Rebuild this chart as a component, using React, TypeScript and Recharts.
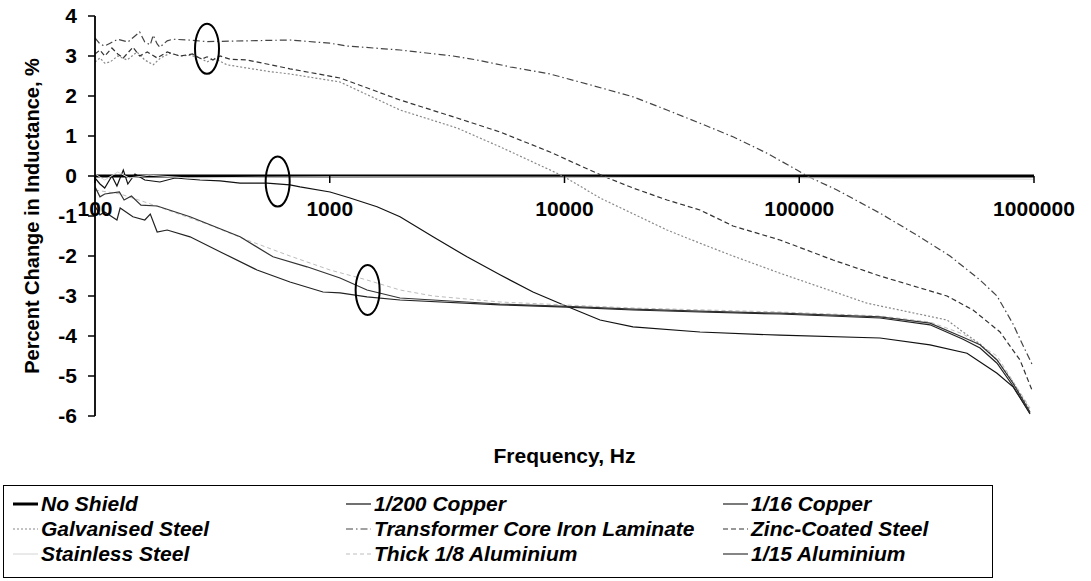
import React from 'react';
import { LineChart, Line, XAxis, YAxis, ReferenceLine, ReferenceDot, Label } from 'recharts';

type Pt = [number, number];

// frequency (Hz) vs percent change in inductance
const FREQ_TICKS = [100, 1000, 10000, 100000, 1000000];
const PCT_TICKS = [-6, -5, -4, -3, -2, -1, 0, 1, 2, 3, 4];

const noShield: Pt[] = [[100, 0], [1000, 0], [10000, 0], [100000, 0], [1000000, 0]];

const copper200: Pt[] = [
  [100, -0.05], [105, -0.2], [110, -0.3], [118, 0.0], [124, -0.25], [132, 0.15], [138, -0.2], [148, 0.05],
  [163, -0.1], [189, -0.15], [219, -0.05], [280, -0.1], [341, -0.12], [415, -0.18], [540, -0.18], [677, -0.22],
  [747, -0.27], [1003, -0.4], [1220, -0.55], [1590, -0.77], [1992, -1.02], [2754, -1.52], [3842, -2.02],
  [5312, -2.47], [7342, -2.9], [9854, -3.22], [14170, -3.6], [19580, -3.77], [37770, -3.9], [82790, -3.98],
  [220800, -4.05], [360600, -4.22], [518400, -4.43], [695800, -4.93], [813900, -5.27], [961600, -5.93],
];

const copper16: Pt[] = [
  [100, -0.75], [105, -0.97], [110, -0.9], [124, -1.1], [128, -0.8], [145, -1.02], [163, -1.1], [172, -0.95],
  [184, -1.4], [203, -1.35], [254, -1.52], [351, -1.93], [490, -2.35], [677, -2.65], [936, -2.9], [1106, -2.92],
  [1441, -3.02], [1992, -3.1], [5312, -3.22], [10250, -3.28], [19580, -3.35], [37770, -3.4], [82790, -3.45],
  [220800, -3.55], [360600, -3.72], [498500, -4.08], [589000, -4.3], [695800, -4.68], [813900, -5.25], [961600, -5.95],
];

const galvanised: Pt[] = [
  [100, 2.85], [105, 2.95], [110, 2.82], [116, 2.85], [125, 3.0], [137, 2.9], [151, 3.1], [163, 2.9], [177, 2.78],
  [190, 2.95], [209, 3.07], [230, 3.0], [254, 3.02], [280, 2.95], [300, 2.85], [320, 2.95], [365, 2.78], [444, 2.7],
  [540, 2.62], [677, 2.55], [1106, 2.35], [1992, 1.65], [3485, 1.2], [5312, 0.73], [9854, 0], [14170, -0.55],
  [27330, -1.35], [37770, -1.68], [52220, -2.0], [82790, -2.43], [194400, -3.18], [426000, -3.6], [498500, -3.9],
  [589000, -4.2], [695800, -4.6], [813900, -5.15], [961600, -5.85],
];

const transformerCore: Pt[] = [
  [100, 3.45], [105, 3.3], [110, 3.25], [116, 3.32], [125, 3.42], [138, 3.35], [148, 3.5], [155, 3.6], [163, 3.35],
  [172, 3.28], [177, 3.52], [184, 3.3], [189, 3.22], [203, 3.38], [215, 3.42], [250, 3.4], [300, 3.36], [444, 3.38],
  [677, 3.4], [1000, 3.32], [1185, 3.25], [1992, 3.15], [3350, 3.0], [4240, 2.9], [5859, 2.73], [8676, 2.55],
  [12840, 2.28], [19580, 1.98], [27330, 1.65], [37770, 1.32], [52220, 0.98], [72880, 0.57], [97810, 0.15],
  [107900, 0], [144800, -0.35], [220800, -0.93], [317500, -1.48], [438700, -2.0], [589000, -2.6], [695800, -3.0],
  [813900, -3.7], [900000, -4.25], [980000, -4.7],
];

const zincCoated: Pt[] = [
  [100, 3.05], [105, 3.15], [110, 3.0], [118, 3.2], [125, 3.05], [132, 2.95], [145, 3.22], [155, 3.0], [167, 3.1],
  [184, 2.95], [203, 3.1], [230, 3.0], [260, 3.05], [285, 2.92], [300, 2.98], [318, 2.9], [341, 3.0], [376, 2.92],
  [444, 2.9], [520, 2.82], [677, 2.68], [1106, 2.45], [1992, 1.9], [3485, 1.45], [5312, 1.1], [8676, 0.6],
  [14590, 0], [19580, -0.3], [27330, -0.6], [37770, -0.85], [52220, -1.25], [82790, -1.6], [139300, -2.1],
  [220800, -2.5], [426000, -3.0], [549800, -3.35], [716600, -3.9], [871800, -4.6], [980000, -5.35],
];

const stainless: Pt[] = [
  [100, 0.05], [110, -0.1], [125, 0.1], [140, -0.05], [170, 0.02], [250, -0.05], [500, -0.03], [1000, -0.02],
  [10000, -0.03], [100000, -0.05], [1000000, -0.08],
];

const thickAl: Pt[] = [
  [100, -0.35], [128, -0.45], [163, -0.65], [215, -0.9], [300, -1.2], [444, -1.6], [677, -2.0], [1003, -2.35],
  [1441, -2.6], [1992, -2.85], [2754, -3.0], [5312, -3.15], [19580, -3.3], [82790, -3.4], [220800, -3.5],
  [360600, -3.65], [498500, -3.95], [695800, -4.5], [961600, -5.8],
];

const al15: Pt[] = [
  [100, -0.27], [105, -0.52], [110, -0.45], [127, -0.4], [133, -0.6], [143, -0.5], [157, -0.73], [184, -0.75],
  [254, -1.02], [415, -1.52], [573, -2.02], [800, -2.27], [1106, -2.55], [1441, -2.85], [1992, -3.05], [2754, -3.1],
  [5312, -3.2], [10250, -3.26], [19580, -3.33], [37770, -3.38], [82790, -3.43], [220800, -3.52], [360600, -3.68],
  [498500, -4.03], [589000, -4.22], [695800, -4.6], [813900, -5.18], [961600, -5.9],
];

// hand-drawn ovals on the original figure
const ovalMarks: Pt[] = [[300, 3.18], [600, -0.14], [1450, -2.85]];

const SERIES = [
  { name: 'No Shield', data: noShield, color: '#000', width: 3, dash: undefined as string | undefined },
  { name: '1/200 Copper', data: copper200, color: '#111', width: 1.2, dash: undefined },
  { name: '1/16 Copper', data: copper16, color: '#222', width: 1.2, dash: undefined },
  { name: 'Galvanised Steel', data: galvanised, color: '#888', width: 1.2, dash: '2 2' },
  { name: 'Transformer Core Iron Laminate', data: transformerCore, color: '#444', width: 1.2, dash: '7 3 1.5 3' },
  { name: 'Zinc-Coated Steel', data: zincCoated, color: '#333', width: 1.2, dash: '5 3' },
  { name: 'Stainless Steel', data: stainless, color: '#d4d4d4', width: 1, dash: undefined },
  { name: 'Thick 1/8 Aluminium', data: thickAl, color: '#bdbdbd', width: 1, dash: '4 3' },
  { name: '1/15 Aluminium', data: al15, color: '#333', width: 1.2, dash: undefined },
];

const W = 1091;
const H = 581;
const MARGIN = { top: 16, right: 57, left: 0, bottom: 125 };
const Y_MIN = -6;
const Y_MAX = 4;
const PLOT_H = 400;
const ZERO_Y = MARGIN.top + (PLOT_H * Y_MAX) / (Y_MAX - Y_MIN);

const FONT = 'Liberation Sans, Arial, Helvetica, sans-serif';
const TICK_STYLE = { fontFamily: FONT, fontWeight: 700, fontSize: 21, fill: '#000' };

const FreqTick = ({ x, payload }: any) => (
  <g>
    <line x1={x} x2={x} y1={ZERO_Y} y2={ZERO_Y + 7} stroke="#000" strokeWidth={1.5} />
    <text x={x} y={ZERO_Y + 40} textAnchor="middle" style={TICK_STYLE}>
      {payload.value}
    </text>
  </g>
);

const Oval = ({ cx, cy }: any) => (
  <ellipse cx={cx} cy={cy} rx={12} ry={25} fill="none" stroke="#000" strokeWidth={2} />
);

const YTitle = ({ viewBox }: any) => (
  <text
    transform={`translate(${viewBox.x + 32}, ${viewBox.y + viewBox.height / 2}) rotate(-90)`}
    textAnchor="middle"
    dominantBaseline="central"
    style={{ ...TICK_STYLE, fontSize: 20 }}
  >
    Percent Change in Inductance, %
  </text>
);

const XTitle = ({ viewBox }: any) => (
  <text
    x={viewBox.x + viewBox.width / 2}
    y={455}
    textAnchor="middle"
    dominantBaseline="central"
    style={TICK_STYLE}
  >
    Frequency, Hz
  </text>
);

const LegendBox = () => (
  <div
    style={{
      position: 'absolute',
      left: 3,
      top: 485,
      width: 990,
      height: 93,
      border: '1.5px solid #000',
      fontFamily: FONT,
      fontWeight: 700,
      fontStyle: 'italic',
      fontSize: 21,
      display: 'grid',
      gridTemplateColumns: '333px 377px 1fr',
      gridAutoRows: '25px',
      paddingTop: 5,
      paddingLeft: 9,
      boxSizing: 'border-box',
    }}
  >
    {SERIES.map((s) => (
      <div key={s.name} style={{ display: 'flex', alignItems: 'center', whiteSpace: 'nowrap' }}>
        <svg width={28} height={10} style={{ flex: 'none' }}>
          <line
            x1={0}
            x2={25}
            y1={5}
            y2={5}
            stroke={s.color}
            strokeWidth={s.width}
            strokeDasharray={s.dash}
          />
        </svg>
        <span>{s.name}</span>
      </div>
    ))}
  </div>
);

export default function App() {
  return (
    <div style={{ position: 'absolute', left: 0, top: 0, width: W, height: H, background: '#fff' }}>
      <LineChart width={W} height={H} margin={MARGIN}>
        <XAxis
          dataKey="f"
          type="number"
          scale="log"
          domain={[100, 1000000]}
          ticks={FREQ_TICKS}
          axisLine={false}
          tickLine={false}
          tick={<FreqTick />}
          height={40}
          allowDataOverflow
        >
          <Label content={<XTitle />} />
        </XAxis>
        <YAxis
          type="number"
          domain={[Y_MIN, Y_MAX]}
          ticks={PCT_TICKS}
          width={95}
          axisLine={{ stroke: '#000', strokeWidth: 1.8 }}
          tickLine={{ stroke: '#000', strokeWidth: 1.5 }}
          tickSize={7}
          tickMargin={11}
          tick={TICK_STYLE}
          allowDataOverflow
        >
          <Label content={<YTitle />} />
        </YAxis>
        <ReferenceLine y={0} stroke="#000" strokeWidth={1.5} />
        {SERIES.map((s) => (
          <Line
            key={s.name}
            data={s.data.map(([f, v]) => ({ f, v }))}
            dataKey="v"
            name={s.name}
            type="linear"
            stroke={s.color}
            strokeWidth={s.width}
            strokeDasharray={s.dash}
            dot={false}
            activeDot={false}
            isAnimationActive={false}
          />
        ))}
        {ovalMarks.map(([f, v]) => (
          <ReferenceDot key={f} x={f} y={v} shape={<Oval />} />
        ))}
      </LineChart>
      <LegendBox />
    </div>
  );
}
